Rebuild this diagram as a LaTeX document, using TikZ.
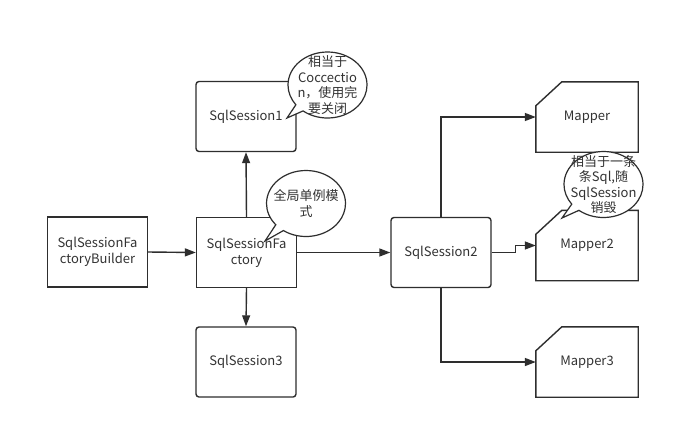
\documentclass[tikz,border=0pt]{standalone}
\usepackage{fontspec}
\setmainfont{Noto Sans CJK SC}
\usetikzlibrary{arrows.meta,calc,shapes.callouts}
\definecolor{ln}{HTML}{2E2E2E}
\definecolor{tx}{HTML}{333333}
\tikzset{
  box/.style={draw=ln, line width=1.4pt, fill=white, minimum width=100pt, minimum height=70pt, inner sep=0pt, align=center, text=tx, font=\fontsize{13}{16}\selectfont},
  rbox/.style={box, rounded corners=3pt},
  mapbox/.style={minimum width=102pt, minimum height=70pt, inner sep=0pt, text=tx, font=\fontsize{13}{16}\selectfont},
  conn/.style={draw=ln, line width=1.4pt, -{Triangle[length=11pt,width=8pt]}},
  bubble/.style={ellipse callout, draw=ln, line width=1.2pt, fill=white, minimum width=79pt, minimum height=66pt, inner sep=0pt},
  btext/.style={align=center, text=tx, inner sep=0pt, font=\fontsize{13}{15.5}\selectfont},
}
\begin{document}
\begin{tikzpicture}[x=1pt,y=-1pt]
\useasboundingbox[fill=white] (0,0) rectangle (687,429);
% boxes
\node[box] (builder) at (97.5,252) {SqlSessionFa\\ctoryBuilder};
\node[box] (factory) at (246.5,252.5) {SqlSessionFa\\ctory};
\node[rbox] (s1) at (246,116.5) {SqlSession1};
\node[rbox] (s2) at (441,252.5) {SqlSession2};
\node[rbox] (s3) at (246,362) {SqlSession3};
% mappers
\node[mapbox] (m1) at (587,117) {};
\node[mapbox] (m2) at (587,245.5) {};
\node[mapbox] (m3) at (587,362) {};
\foreach \m in {m1,m2,m3}{
  \draw[draw=ln, line width=1.4pt, fill=white] ($(\m.north west)+(0,24)$) -- ($(\m.north west)+(26,0)$) -- (\m.north east) -- (\m.south east) -- (\m.south west) -- cycle;
}
\node[mapbox] (m1t) at (m1.center) {Mapper};
\node[mapbox] (m2t) at (m2.center) {Mapper2};
\node[mapbox] (m3t) at (m3.center) {Mapper3};
% connectors
\draw[conn] (builder.east) -- (factory.west);
\draw[conn] (factory.north) -- (s1.south);
\draw[conn] (factory.south) -- (s3.north);
\draw[conn] (factory.east) -- (s2.west);
\draw[conn] (s2.north) |- (m1.west);
\draw[conn] (s2.south) |- (m3.west);
\draw[conn] (s2.east) -- ++(24,0) |- (m2.west);
% callouts
\node[bubble, callout absolute pointer={(287,118)}] (c1) at (327.5,85) {};
\node[btext] (c1t) at (c1.center) {相当于\\Coccectio\\n，使用完\\要关闭};
\node[bubble, callout absolute pointer={(265,241)}] (c2) at (306,203.5) {};
\node[btext] (c2t) at (c2.center) {全局单例模\\式};
\node[bubble, callout absolute pointer={(562,218)}] (c3) at (603.5,184.5) {};
\node[btext] (c3t) at (c3.center) {相当于一条\\条Sql,随\\SqlSession\\销毁};
\end{tikzpicture}
\end{document}
